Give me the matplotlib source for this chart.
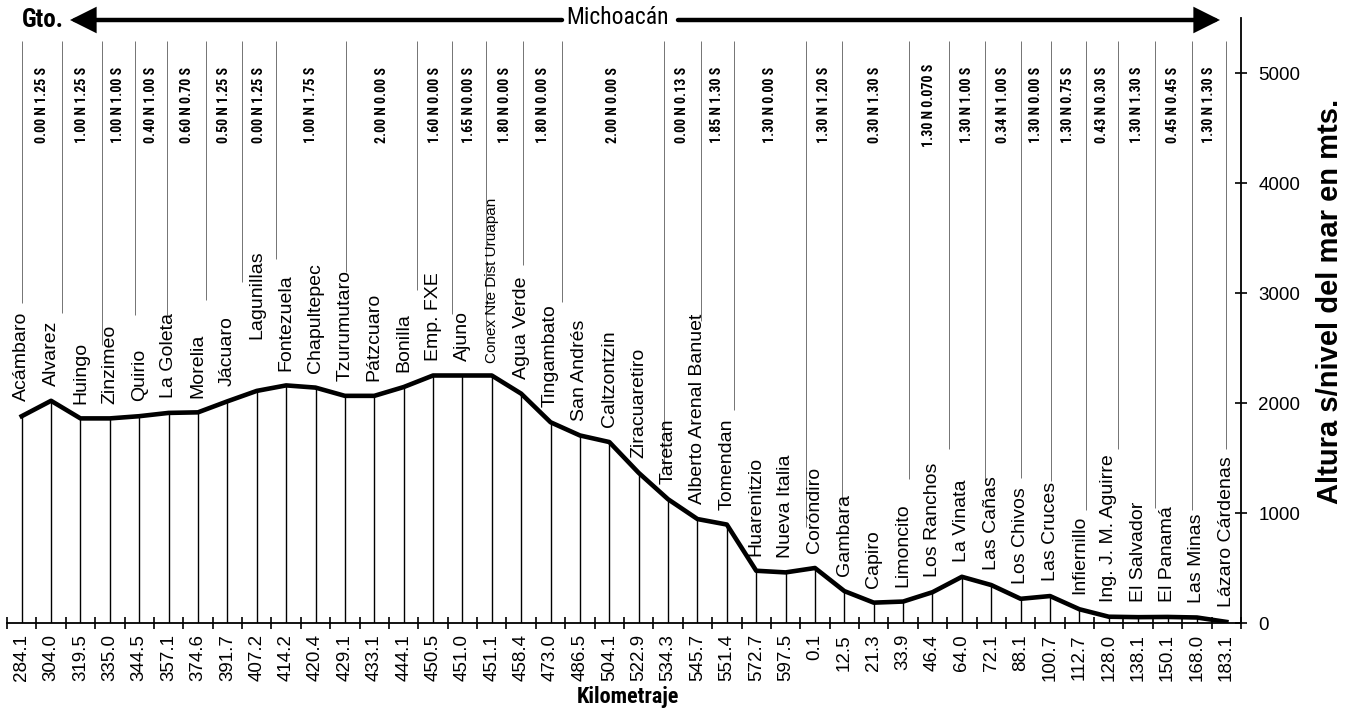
import os
import numpy as np
import matplotlib
matplotlib.use("Agg")
import matplotlib.pyplot as plt
from matplotlib import font_manager as fm
from matplotlib.patches import FancyArrowPatch

plt.rcParams['font.family'] = ['Liberation Sans', 'DejaVu Sans']


def fuente_angosta(archivos, peso):
    # busca una fuente condensada instalada; si no hay, usa la normal
    instaladas = {os.path.basename(f.fname).lower(): f.fname
                  for f in fm.fontManager.ttflist}
    for a in archivos:
        if a in instaladas:
            return fm.FontProperties(fname=instaladas[a]), a
    return fm.FontProperties(family='Liberation Sans', weight=peso), None


NARROW_B, NB_NAME = fuente_angosta(['liberationsansnarrow-bold.ttf',
                                    'robotocondensed-bold.ttf',
                                    'dejavusanscondensed-bold.ttf'], 'bold')
NARROW_R, NR_NAME = fuente_angosta(['liberationsansnarrow-regular.ttf',
                                    'robotocondensed-regular.ttf',
                                    'dejavusanscondensed.ttf'], 'normal')

# estaciones, kilometraje y altura (m s.n.m.)
estaciones = ["Acámbaro", "Alvarez", "Huingo", "Zinzimeo", "Quirio", "La Goleta",
              "Morelia", "Jácuaro", "Lagunillas", "Fontezuela", "Chapultepec",
              "Tzurumutaro", "Pátzcuaro", "Bonilla", "Emp. FXE", "Ajuno",
              "Conex Nte Dist Uruapan", "Agua Verde", "Tingambato", "San Andrés",
              "Caltzontzin", "Ziracuaretiro", "Taretan", "Alberto Arenal Banuet",
              "Tomendan", "Huarenitzio", "Nueva Italia", "Coróndiro", "Gambara",
              "Capiro", "Limoncito", "Los Ranchos", "La Vinata", "Las Cañas",
              "Los Chivos", "Las Cruces", "Infiernillo", "Ing. J. M. Aguirre",
              "El Salvador", "El Panamá", "Las Minas", "Lázaro Cárdenas"]
kilometraje = ["284.1", "304.0", "319.5", "335.0", "344.5", "357.1", "374.6",
               "391.7", "407.2", "414.2", "420.4", "429.1", "433.1", "444.1",
               "450.5", "451.0", "451.1", "458.4", "473.0", "486.5", "504.1",
               "522.9", "534.3", "545.7", "551.4", "572.7", "597.5", "0.1",
               "12.5", "21.3", "33.9", "46.4", "64.0", "72.1", "88.1", "100.7",
               "112.7", "128.0", "138.1", "150.1", "168.0", "183.1"]
altura = [1880, 2020, 1860, 1860, 1880, 1910, 1915, 2015, 2110, 2160, 2140,
          2065, 2065, 2145, 2250, 2250, 2250, 2085, 1825, 1705, 1645, 1365,
          1125, 945, 895, 475, 460, 500, 290, 185, 195, 280, 420, 345, 220,
          245, 125, 57, 53, 55, 50, 10]

# pendientes maximas por tramo (norte / sur)
pendientes = ["0.00 N 1.25 S", "1.00 N 1.25 S", "1.00 N 1.00 S", "0.40 N 1.00 S",
              "0.60 N 0.70 S", "0.50 N 1.25 S", "0.00 N 1.25 S", "1.00 N 1.75 S",
              "2.00 N 0.00 S", "1.60 N 0.00 S", "1.65 N 0.00 S", "1.80 N 0.00 S",
              "1.80 N 0.00 S", "2.00 N 0.00 S", "0.00 N 0.13 S", "1.85 N 1.30 S",
              "1.30 N 0.00 S", "1.30 N 1.20 S", "0.30 N 1.30 S", "1.30 N 0.070 S",
              "1.30 N 1.00 S", "0.34 N 1.00 S", "1.30 N 0.00 S", "1.30 N 0.75 S",
              "0.43 N 0.30 S", "1.30 N 1.30 S", "0.45 N 0.45 S", "1.30 N 1.30 S"]

# limites de los tramos (en posicion de estacion) y donde termina cada linea guia
limites_tramo = [0, 1.36, 2.72, 3.84, 4.96, 6.26, 7.51, 8.67, 11.05, 13.46,
                 14.65, 15.81, 17.07, 18.39, 21.86, 23.12, 24.24, 26.69, 27.92,
                 30.19, 31.55, 32.78, 34.0, 35.02, 36.21, 37.33, 38.56, 39.82, 41]
fin_guia = [2910, 2820, 2525, 2800, 2800, 2940, 3100, 3310, 3195, 3030, 2805,
            2660, 3255, 2920, 1400, 2750, 1935, 875, 1095, 1310, 1585, 1290,
            1315, 1290, 1030, 1580, 1050, 1030, 1580]

W, H = 1350, 715
fig = plt.figure(figsize=(W / 100, H / 100), dpi=100)
ax = fig.add_axes([7 / W, 1 - 623 / H, (1241 - 7) / W, (623 - 18) / H])

n = len(estaciones)
x = np.arange(n)
ax.set_xlim(-0.5, n - 0.5)
ax.set_ylim(0, 5500)

ax.vlines(x, 0, altura, color='black', lw=1)
ax.plot(x, altura, color='black', lw=3.3, solid_joinstyle='round', zorder=3)

for i, nombre in enumerate(estaciones):
    dy = 135
    size = 14
    if nombre == "Lagunillas":
        dy = 470
    if nombre.startswith("Conex"):
        size = 11
        dy = 110
    ax.text(i, altura[i] + dy, nombre, rotation=90, ha='center', va='bottom',
            fontsize=size)

# lineas guia y pendientes
ax.vlines(limites_tramo, fin_guia, 5290, color='0.45', lw=0.7)
fp_pend = NARROW_B.copy()
fp_pend.set_size(10)
for k, txt in enumerate(pendientes):
    xm = (limites_tramo[k] + limites_tramo[k + 1]) / 2
    ax.text(xm, 4710, txt, rotation=90, ha='center', va='center',
            fontproperties=fp_pend)

# ejes
for s in ['left', 'top']:
    ax.spines[s].set_visible(False)
for s in ['bottom', 'right']:
    ax.spines[s].set_linewidth(1.3)

ax.set_xticks(x)
ax.set_xticklabels(kilometraje, rotation=90, fontsize=13.5)
ax.set_xticks(np.arange(-0.5, n), minor=True)
ax.tick_params(axis='x', which='major', length=0, pad=8)
ax.tick_params(axis='x', which='minor', direction='inout', length=8, width=1.2)

ax.yaxis.tick_right()
ax.set_yticks(range(0, 5001, 1000))
ax.tick_params(axis='y', direction='inout', length=9, width=1.2, pad=8,
               labelsize=13.5)

fp_kil = NARROW_B.copy()
fp_kil.set_size(16)
fig.text(628 / W, 1 - 697 / H, "Kilometraje", ha='center', va='center',
         fontproperties=fp_kil)
fig.text(1330 / W, 1 - 301 / H, "Altura s/nivel del mar en mts.", rotation=90,
         ha='center', va='center', fontsize=21, fontweight='bold')

# encabezado con flechas
yh = 1 - 20 / H
fp_gto = NARROW_B.copy()
fp_gto.set_size(18)
fig.text(22 / W, yh, "Gto.", ha='left', va='center', fontproperties=fp_gto)
fp_mich = NARROW_R.copy()
fp_mich.set_size(17)
fig.text(618 / W, yh + 3 / H, "Michoacán", ha='center', va='center',
         fontproperties=fp_mich)
for x0, x1 in [(562, 70), (678, 1220)]:
    flecha = FancyArrowPatch((x0 / W, yh), (x1 / W, yh),
                             transform=fig.transFigure,
                             arrowstyle='-|>,head_length=0.7,head_width=0.35',
                             mutation_scale=20, lw=3.2, color='black',
                             shrinkA=0, shrinkB=0, joinstyle='miter')
    fig.patches.append(flecha)

fig.savefig("out.png", dpi=100)
